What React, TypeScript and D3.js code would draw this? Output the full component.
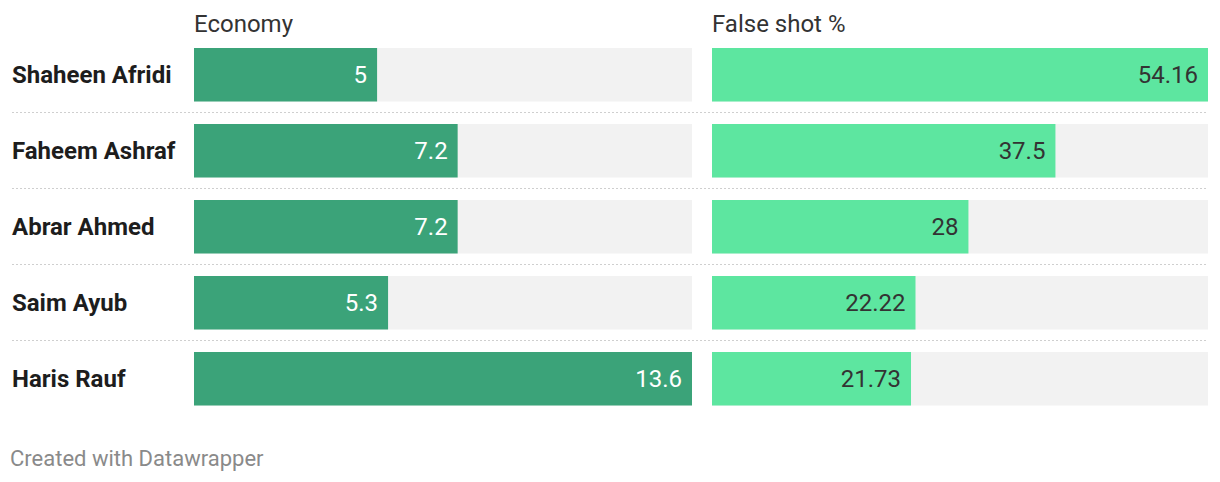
import React from "react";
import * as d3 from "d3";

const players = ["Shaheen Afridi", "Faheem Ashraf", "Abrar Ahmed", "Saim Ayub", "Haris Rauf"];
const economy = [5, 7.2, 7.2, 5.3, 13.6];
const falseShot = [54.16, 37.5, 28, 22.22, 21.73];
const headers = ["Economy", "False shot %"];

const W = 1220;
const H = 482;
const FONT = "Roboto, 'Noto Sans', sans-serif";

export default function App() {
  const yPos = (i: number) => 48 + i * 76;
  const bh = 53.5;
  const x1 = d3.scaleLinear().domain([0, d3.max(economy)!]).range([194, 692]);
  const x2 = d3.scaleLinear().domain([0, d3.max(falseShot)!]).range([712, 1208]);

  const cols = [
    { scale: x1, values: economy, color: "#3ba379", text: "#ffffff", fmt: (v: number) => String(v) },
    { scale: x2, values: falseShot, color: "#5de6a0", text: "#333333", fmt: (v: number) => String(v) },
  ];

  return (
    <svg width={W} height={H} style={{ position: "absolute", left: 0, top: 0, background: "#fff" }} fontFamily={FONT}>
      <rect x={0} y={0} width={W} height={H} fill="#fff" />
      {headers.map((h, i) => (
        <text key={h} x={cols[i].scale.range()[0]} y={32} fontSize={24} fill="#333">{h}</text>
      ))}
      {players.map((p, i) => (
        <g key={p}>
          <text x={12} y={yPos(i) + bh / 2} dy="0.35em" fontSize={24} fontWeight={700} fill="#1d1d1d">{p}</text>
          {i < players.length - 1 && (
            <line x1={12} x2={1208} y1={yPos(i) + 64.5} y2={yPos(i) + 64.5} stroke="#cfcfcf" strokeWidth={1} strokeDasharray="2 2" />
          )}
          {cols.map((c, j) => {
            const [r0, r1] = c.scale.range();
            const v = c.values[i];
            return (
              <g key={j}>
                <rect x={r0} y={yPos(i)} width={r1 - r0} height={bh} fill="#f2f2f2" />
                <rect x={r0} y={yPos(i)} width={c.scale(v) - r0} height={bh} fill={c.color} />
                <text x={c.scale(v) - 10} y={yPos(i) + bh / 2} dy="0.35em" textAnchor="end" fontSize={24} fill={c.text}>{c.fmt(v)}</text>
              </g>
            );
          })}
        </g>
      ))}
      <text x={10} y={466} fontSize={22} fill="#8a8a8a">Created with Datawrapper</text>
    </svg>
  );
}
